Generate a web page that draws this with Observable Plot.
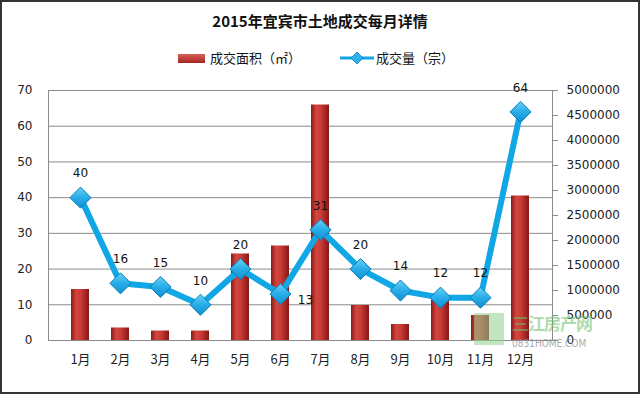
<!DOCTYPE html>
<html>
<head>
<meta charset="utf-8">
<script src="https://cdn.jsdelivr.net/npm/d3@7"></script>
<script src="https://cdn.jsdelivr.net/npm/@observablehq/plot@0.6"></script>
<style>
  body { margin: 0; background: #fff; }
  #wrap { position: relative; width: 640px; height: 394px; overflow: hidden; background: #fff; font-family: "Noto Sans CJK SC", sans-serif; color: #111; }
  #frame { position: absolute; left: 0; top: 0; width: 640px; height: 394px; box-sizing: border-box; border: 2px solid #333; pointer-events: none; }
  #title { position: absolute; top: 10px; left: 0; width: 640px; text-align: center; font-weight: bold; font-size: 15px; line-height: 22px; }
  .leg { position: absolute; font-size: 13px; line-height: 16px; }
  #chart { position: absolute; left: 0; top: 75px; }
  #wm1 { position: absolute; left: 512px; top: 310px; font-size: 17px; color: #6cbf6c; opacity: 0.55; font-weight: bold; letter-spacing: -1px; }
  #wm2 { position: absolute; left: 512px; top: 338px; font-size: 10px; color: #888; opacity: 0.7; font-family: "DejaVu Sans Condensed", sans-serif; }
  #wmlogo { position: absolute; left: 474px; top: 313px; width: 30px; height: 32px; background: #8fcf8f; opacity: 0.55; }
</style>
</head>
<body>
<div id="wrap">
  <div id="title">2015年宜宾市土地成交每月详情</div>
  <div class="leg" style="left:178px;top:54px;width:27px;height:9px;background:linear-gradient(to bottom,#d9605c,#a52522);"></div>
  <div class="leg" style="left:210px;top:50px;">成交面积（㎡）</div>
  <svg class="leg" style="left:340px;top:50px;" width="34" height="16">
    <line x1="0" y1="8" x2="34" y2="8" stroke="#11a6e4" stroke-width="3"/>
    <path d="M17,2 L23,8 L17,14 L11,8 Z" fill="#2fb3ec" stroke="#0a7bbb" stroke-width="0.8"/>
  </svg>
  <div class="leg" style="left:376px;top:50px;">成交量（宗）</div>
  <div id="chart"></div>
  <div id="wmlogo"></div>
  <div id="wm1">三江房产网</div>
  <div id="wm2">0831HOME.COM</div>
  <div id="frame"></div>
</div>
<script>
const months = ["1月","2月","3月","4月","5月","6月","7月","8月","9月","10月","11月","12月"];
const counts = [40, 16, 15, 10, 20, 13, 31, 20, 14, 12, 12, 64];
const areas = [1020000, 250000, 190000, 190000, 1730000, 1890000, 4710000, 700000, 320000, 800000, 500000, 2890000];
const leftTicks = [0, 10, 20, 30, 40, 50, 60, 70];
const rightTicks = [0, 500000, 1000000, 1500000, 2000000, 2500000, 3000000, 3500000, 4000000, 4500000, 5000000];

const leftMax = 70, rightMax = 5000000;
const k = leftMax / rightMax;
const data = months.map((m, i) => ({month: m, count: counts[i], area: areas[i]}));

const chart = Plot.plot({
  width: 640,
  height: 299,
  marginLeft: 48,
  marginRight: 88,
  marginTop: 15,
  marginBottom: 34,
  style: {fontFamily: "DejaVu Sans, sans-serif", fontSize: "12px", color: "#222", background: "transparent", overflow: "visible"},
  x: {domain: months, padding: 0.56, label: null},
  y: {domain: [0, leftMax], label: null},
  marks: [
    Plot.gridY(leftTicks, {stroke: "#8c8c8c", strokeOpacity: 1}),
    Plot.frame({stroke: "#8c8c8c"}),
    Plot.axisY(leftTicks, {tickSize: 0, tickPadding: 16, label: null, fontSize: 12}),
    Plot.axisY(rightTicks.map(v => v * k), {anchor: "right", tickSize: 5, tickPadding: 9, stroke: "#8c8c8c", label: null, fontSize: 12,
      tickFormat: d => String(Math.round(d / k / 100000) * 100000)}),
    Plot.axisX({tickSize: 0, tickPadding: 14, label: null, fontSize: 13, fontFamily: "Noto Sans CJK SC, sans-serif"}),
    Plot.barY(data, {x: "month", y: d => d.area * k, fill: "url(#barGrad)"}),
    Plot.line(data, {x: "month", y: "count", stroke: "#11a6e4", strokeWidth: 6, strokeLinejoin: "round"}),
    Plot.dot(data, {x: "month", y: "count", symbol: "diamond2", r: 9.5, fill: "url(#dotGrad)", stroke: "#0a7bbb", strokeWidth: 1}),
    Plot.text(data.filter(d => d.month !== "6月"), {x: "month", y: "count", text: d => String(d.count), dy: -24, fontSize: 12, fill: "#111"}),
    Plot.text(data.filter(d => d.month === "6月"), {x: "month", y: "count", text: d => String(d.count), dx: 25, dy: 6, fontSize: 12, fill: "#111"})
  ]
});

const ns = "http://www.w3.org/2000/svg";
const defs = document.createElementNS(ns, "defs");
defs.innerHTML = `
  <linearGradient id="barGrad" x1="0" x2="1" y1="0" y2="0">
    <stop offset="0" stop-color="#8a1a18"/>
    <stop offset="0.3" stop-color="#d2473f"/>
    <stop offset="0.55" stop-color="#c93b36"/>
    <stop offset="1" stop-color="#861715"/>
  </linearGradient>
  <linearGradient id="dotGrad" x1="0" x2="0" y1="0" y2="1">
    <stop offset="0" stop-color="#6bd0f6"/>
    <stop offset="0.5" stop-color="#27ade8"/>
    <stop offset="1" stop-color="#1590d0"/>
  </linearGradient>`;
chart.insertBefore(defs, chart.firstChild);
document.getElementById("chart").appendChild(chart);
</script>
</body>
</html>
